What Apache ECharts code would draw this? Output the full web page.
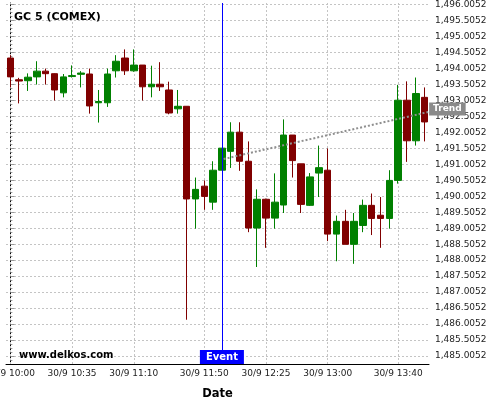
<!DOCTYPE html>
<html><head><meta charset="utf-8">
<script src="https://cdn.jsdelivr.net/npm/echarts@6/dist/echarts.min.js"></script>
<style>html,body{margin:0;padding:0;background:#fff}#c{width:500px;height:400px}</style>
</head><body><div id="c"></div>
<script>
const categories = ["30/9 10:00","30/9 10:05","30/9 10:10","30/9 10:15","30/9 10:20","30/9 10:25","30/9 10:30","30/9 10:35","30/9 10:40","30/9 10:45","30/9 10:50","30/9 10:55",
"30/9 11:00","30/9 11:05","30/9 11:10","30/9 11:15","30/9 11:20","30/9 11:25","30/9 11:30","30/9 11:35","30/9 11:40","30/9 11:45","30/9 11:50","30/9 11:55",
"30/9 12:00","30/9 12:05","30/9 12:10","30/9 12:15","30/9 12:20","30/9 12:25","30/9 12:30","30/9 12:35","30/9 12:40","30/9 12:45","30/9 12:50","30/9 12:55",
"30/9 13:00","30/9 13:05","30/9 13:10","30/9 13:15","30/9 13:20","30/9 13:25","30/9 13:30","30/9 13:35","30/9 13:40","30/9 13:45","30/9 13:50","30/9 13:55"];
const xLabelTimes = ["30/9 10:00","30/9 10:35","30/9 11:10","30/9 11:50","30/9 12:25","30/9 13:00","30/9 13:40"];
const opens  = [1494.33,1493.65,1493.62,1493.74,1493.92,1493.84,1493.24,1493.75,1493.82,1493.83,1492.93,1492.93,1493.93,1494.33,1493.93,1494.11,1493.43,1493.51,1493.33,1492.74,1492.82,1489.92,1490.32,1489.82,
                1490.82,1491.41,1492.01,1491.10,1489.01,1489.91,1489.32,1489.73,1491.92,1491.02,1489.72,1490.73,1490.82,1488.82,1489.22,1488.50,1489.09,1489.72,1489.41,1489.31,1490.50,1493.01,1491.74,1493.10];
const closes = [1493.74,1493.61,1493.73,1493.92,1493.84,1493.33,1493.74,1493.78,1493.86,1492.83,1492.97,1493.83,1494.23,1493.93,1494.11,1493.43,1493.51,1493.43,1492.61,1492.82,1489.92,1490.22,1490.00,1490.82,
                1491.51,1492.01,1491.10,1489.01,1489.91,1489.32,1489.82,1491.92,1491.12,1489.75,1490.61,1490.90,1488.82,1489.22,1488.50,1489.22,1489.72,1489.31,1489.31,1490.50,1493.01,1491.74,1493.22,1492.33];
const lows   = [1493.41,1492.91,1493.30,1493.50,1493.50,1493.00,1493.10,1493.72,1493.41,1492.59,1492.31,1492.80,1493.72,1493.80,1493.90,1493.00,1493.10,1493.30,1492.57,1492.59,1486.14,1488.99,1489.58,1489.58,
                1490.82,1490.89,1490.80,1488.88,1487.79,1488.39,1488.99,1489.48,1490.59,1489.48,1489.70,1489.98,1488.60,1487.97,1488.50,1487.89,1488.88,1488.79,1488.39,1488.99,1490.40,1491.08,1491.59,1491.72];
const highs  = [1494.42,1493.71,1493.85,1494.23,1494.00,1493.85,1493.83,1494.10,1493.92,1494.00,1493.33,1494.00,1494.42,1494.60,1494.60,1494.11,1494.09,1494.20,1493.59,1493.33,1492.82,1490.59,1490.50,1491.10,
                1491.51,1492.32,1492.32,1491.72,1490.22,1489.93,1490.72,1492.41,1491.92,1491.02,1490.73,1491.59,1491.50,1489.40,1489.58,1489.48,1489.90,1490.09,1489.98,1490.82,1493.49,1493.60,1493.72,1493.41];
const yTicks = [1485.0052,1485.5052,1486.0052,1486.5052,1487.0052,1487.5052,1488.0052,1488.5052,1489.0052,1489.5052,1490.0052,1490.5052,
                1491.0052,1491.5052,1492.0052,1492.5052,1493.0052,1493.5052,1494.0052,1494.5052,1495.0052,1495.5052,1496.0052];
const trendX = [24.2, 47.4];
const trendY = [1491.17, 1492.64];
const eventTime = "30/9 12:00";
const yMin = 1484.755, yMax = 1496.052;

const showX = (idx) => xLabelTimes.indexOf(categories[idx]) >= 0;
const gridLine = {color:'#c4c4c4', width:1, type:[2,2]};
const chart = echarts.init(document.getElementById('c'), null, {renderer:'canvas'});
chart.setOption({
  animation:false,
  textStyle:{fontFamily:'DejaVu Sans'},
  title:[
    {text:'GC 5 (COMEX)', left:9, top:7, textStyle:{fontSize:11, fontWeight:'bold', color:'#000', fontFamily:'DejaVu Sans'}},
    {text:'www.delkos.com', left:14, top:345, textStyle:{fontSize:10, fontWeight:'bold', color:'#000', fontFamily:'DejaVu Sans'}}
  ],
  grid:{left:6, right:71, top:3, bottom:36, containLabel:false, outerBoundsMode:'none'},
  xAxis:[
    {type:'category', data:categories, boundaryGap:true,
     axisLine:{lineStyle:{color:'#000', width:1}},
     axisTick:{interval:(i)=>showX(i), alignWithLabel:true, length:4, lineStyle:{color:'#999'}},
     axisLabel:{interval:(i)=>showX(i), fontSize:9, color:'#222', margin:5, fontFamily:'DejaVu Sans'},
     splitLine:{show:false}, minorSplitLine:{show:false}, splitArea:{show:false},
     name:'Date', nameLocation:'middle', nameGap:24,
     nameTextStyle:{fontSize:11.5, fontWeight:'bold', color:'#000', fontFamily:'DejaVu Sans'}},
    {type:'value', min:-0.5, max:categories.length-0.5, show:false,
     axisLine:{show:false}, axisTick:{show:false}, axisLabel:{show:false},
     splitLine:{show:false}, minorSplitLine:{show:false}, splitArea:{show:false}}
  ],
  yAxis:{type:'value', position:'right', min:yMin, max:yMax, splitNumber:22,
     axisLine:{show:true, lineStyle:{color:'#000', width:1}},
     axisTick:{show:true, customValues:yTicks, length:4, lineStyle:{color:'#999'}},
     minorTick:{show:true, splitNumber:4, length:2, lineStyle:{color:'#999'}},
     axisLabel:{customValues:yTicks, fontSize:9, color:'#222', margin:6, fontFamily:'DejaVu Sans',
       formatter:(v)=>Number(v).toLocaleString('en-US',{minimumFractionDigits:4, maximumFractionDigits:4})},
     splitLine:{show:true, lineStyle:gridLine}, minorSplitLine:{show:false}},
  series:[
    {type:'line', xAxisIndex:0, yAxisIndex:0, data:[], z:1, silent:true,
     markLine:{silent:true, symbol:'none', z:1, label:{show:false}, lineStyle:gridLine,
       data:xLabelTimes.map(t => ({xAxis:t}))}},
    {type:'candlestick', xAxisIndex:0, yAxisIndex:0, barWidth:7, z:3,
     data:opens.map((o,i)=>[o, closes[i], lows[i], highs[i]]),
     itemStyle:{color:'#008000', color0:'#800000', borderColor:'#008000', borderColor0:'#800000', borderWidth:1},
     markLine:{silent:true, symbol:'none', label:{show:false}, lineStyle:{color:'#0000ff', width:1, type:'solid'},
       data:[{xAxis:eventTime}]},
     markPoint:{symbol:'rect', symbolSize:[44,14], symbolOffset:[0,-7], silent:true,
       itemStyle:{color:'#0000ff'},
       label:{show:true, formatter:'Event', color:'#fff', fontWeight:'bold', fontSize:10, fontFamily:'DejaVu Sans'},
       data:[{coord:[eventTime, yMin]}]}
    },
    {type:'line', xAxisIndex:1, yAxisIndex:0, data:trendX.map((x,i)=>[x, trendY[i]]), symbol:'none', z:4,
     lineStyle:{color:'#8f8f8f', width:2, type:[2,2]},
     endLabel:{show:true, formatter:'Trend', color:'#fff', backgroundColor:'#8a8a8a', fontWeight:'bold', fontSize:9,
       fontFamily:'DejaVu Sans', padding:[2,4,2,4], distance:1, offset:[0,-3]}}
  ]
});
</script></body></html>
